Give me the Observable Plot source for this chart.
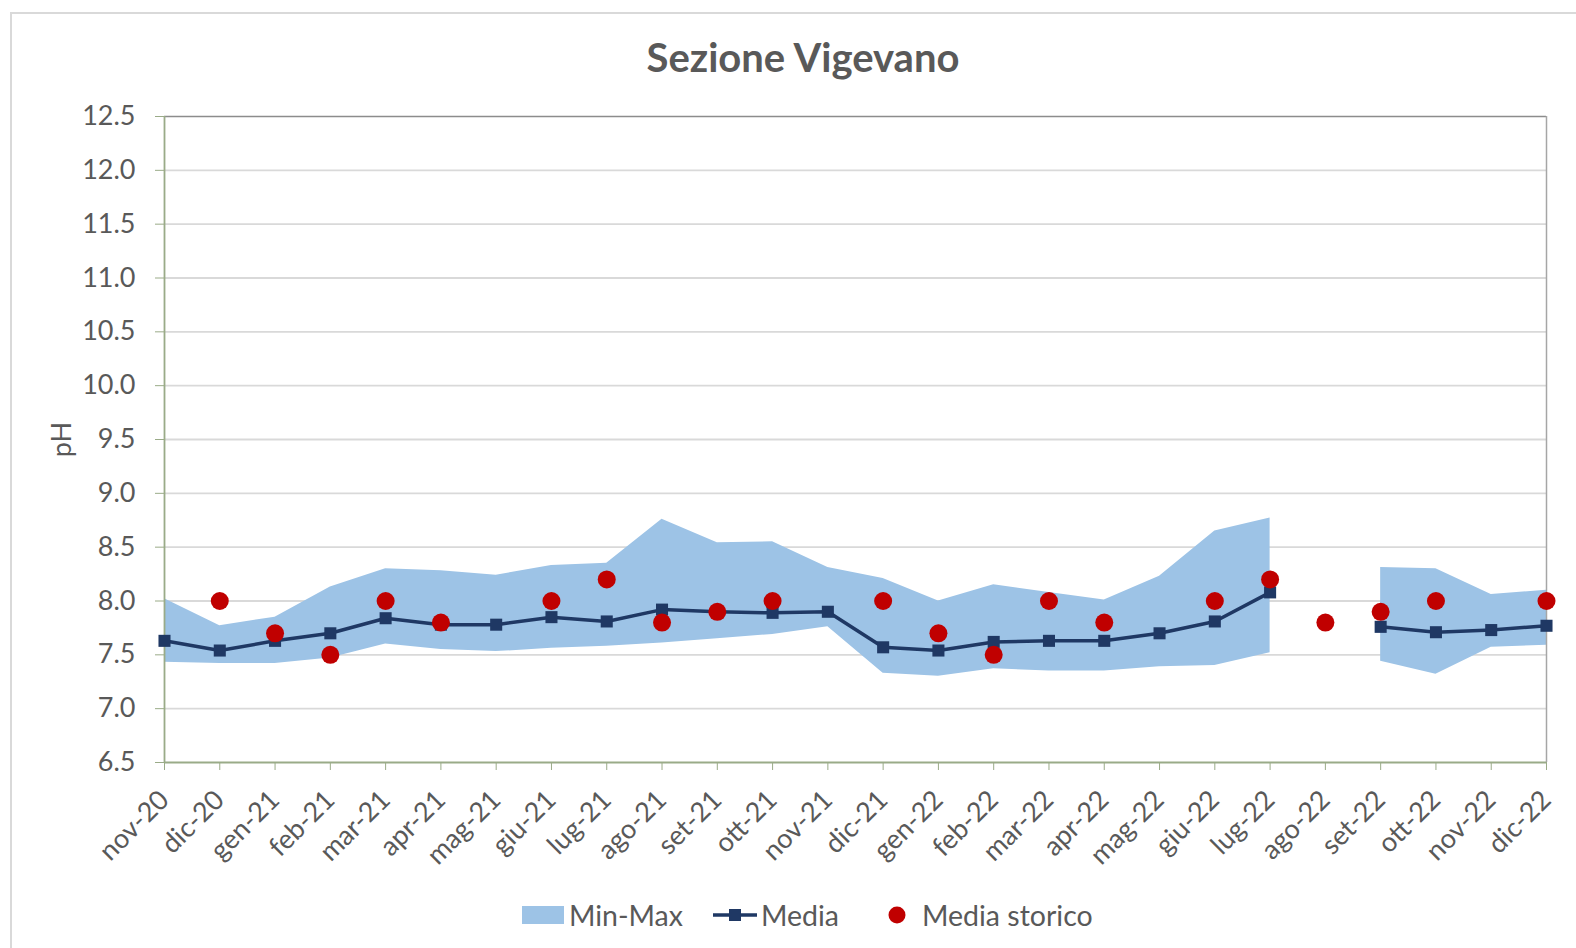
<!DOCTYPE html>
<html>
<head>
<meta charset="utf-8">
<script src="https://cdn.jsdelivr.net/npm/d3@7"></script>
<script src="https://cdn.jsdelivr.net/npm/@observablehq/plot@0.6"></script>
<style>
  html, body { margin: 0; padding: 0; background: #fff; }
  body { width: 1576px; height: 948px; position: relative; overflow: hidden; font-family: Lato, "Open Sans", sans-serif; color: #595959; }
  #frame { position: absolute; left: 10px; top: 12px; width: 1580px; height: 960px; border: 2px solid #d9d9d9; box-sizing: border-box; }
  #title { position: absolute; left: 0; width: 1606px; top: 33px; text-align: center; font-size: 40px; font-weight: bold; color: #595959; }
  #chart { position: absolute; left: 0; top: 90px; }
  #legend { position: absolute; top: 895px; left: 0; width: 1576px; height: 40px; font-size: 28.5px; color: #595959; }
  .li { position: absolute; top: 0; display: flex; align-items: center; height: 40px; }
</style>
</head>
<body>
<div id="frame"></div>
<div id="title">Sezione Vigevano</div>
<div id="chart"></div>
<div id="legend">
  <div class="li" style="left:522px"><svg width="44" height="20"><rect x="0" y="1" width="42" height="18" fill="#9dc3e6"/></svg><span style="margin-left:3px">Min-Max</span></div>
  <div class="li" style="left:713px"><svg width="46" height="20"><line x1="0" y1="10" x2="44" y2="10" stroke="#1f3864" stroke-width="3.5"/><rect x="16" y="4" width="12" height="12" fill="#1f3864"/></svg><span style="margin-left:2px">Media</span></div>
  <div class="li" style="left:887px"><svg width="20" height="20"><circle cx="10" cy="10" r="8.5" fill="#c00000"/></svg><span style="margin-left:15px">Media storico</span></div>
</div>
<script>
const months = ["nov-20","dic-20","gen-21","feb-21","mar-21","apr-21","mag-21","giu-21","lug-21","ago-21","set-21","ott-21","nov-21","dic-21","gen-22","feb-22","mar-22","apr-22","mag-22","giu-22","lug-22","ago-22","set-22","ott-22","nov-22","dic-22"];
const mediaVals = [7.63,7.54,7.63,7.70,7.84,7.78,7.78,7.85,7.81,7.92,7.90,7.89,7.90,7.57,7.54,7.62,7.63,7.63,7.70,7.81,8.08,null,7.76,7.71,7.73,7.77];
const storicoVals = [null,8.0,7.7,7.5,8.0,7.8,null,8.0,8.2,7.8,7.9,8.0,null,8.0,7.7,7.5,8.0,7.8,null,8.0,8.2,7.8,7.9,8.0,null,8.0];
const maxVals = [8.02,7.77,7.85,8.13,8.30,8.28,8.24,8.33,8.35,8.76,8.54,8.55,8.31,8.21,8.00,8.15,8.08,8.01,8.23,8.65,8.77,null,8.31,8.30,8.06,8.10];
const minVals = [7.43,7.42,7.42,7.47,7.60,7.55,7.53,7.56,7.58,7.61,7.65,7.69,7.76,7.33,7.30,7.37,7.35,7.35,7.39,7.40,7.52,null,7.44,7.32,7.57,7.59];
const yTicks = [6.5,7.0,7.5,8.0,8.5,9.0,9.5,10.0,10.5,11.0,11.5,12.0,12.5];

const data = months.map((m, i) => ({m, media: mediaVals[i], storico: storicoVals[i], min: minVals[i], max: maxVals[i]}));

const chart = Plot.plot({
  width: 1576,
  height: 780,
  marginLeft: 164,
  marginRight: 30,
  marginTop: 26,
  marginBottom: 108,
  style: {fontFamily: "Lato, 'Open Sans', sans-serif", fontSize: "27px", color: "#595959", background: "transparent"},
  x: {type: "point", domain: months, padding: 0, round: false, label: null},
  y: {domain: [6.5, 12.5], label: null},
  marks: [
    Plot.gridY(yTicks.filter(v => v > 6.5 && v < 12.5), {stroke: "#d9d9d9", strokeOpacity: 1, strokeWidth: 1.8}),
    Plot.areaY(data, {x: "m", y1: "min", y2: "max", fill: "#9dc3e6", fillOpacity: 1}),
    Plot.ruleY([12.5], {stroke: "#8c8c8c", strokeWidth: 1.5}),
    Plot.ruleX([months[months.length - 1]], {stroke: "#a6a6a6", strokeWidth: 1.5}),
    Plot.ruleX([months[0]], {stroke: "#9aab88", strokeWidth: 1.8}),
    Plot.ruleY([6.5], {stroke: "#9aab88", strokeWidth: 1.8}),
    Plot.axisY(yTicks, {tickSize: 9, tickPadding: 20, stroke: "#9aab88", fill: "#595959", tickFormat: d => d.toFixed(1), label: null}),
    Plot.axisX({tickRotate: -45, tickSize: 8, tickPadding: 25, stroke: "#9aab88", fill: "#595959", label: null}),
    Plot.text(["pH"], {frameAnchor: "left", dx: -102, rotate: -90, textAnchor: "middle", fill: "#595959", fontSize: 27}),
    Plot.line(data, {x: "m", y: "media", stroke: "#1f3864", strokeWidth: 3.5}),
    Plot.dot(data, {x: "m", y: "media", symbol: "square", r: 6.8, fill: "#1f3864", stroke: "none"}),
    Plot.dot(data, {x: "m", y: "storico", r: 9, fill: "#c00000", stroke: "none"})
  ]
});
document.getElementById("chart").appendChild(chart);
</script>
</body>
</html>
